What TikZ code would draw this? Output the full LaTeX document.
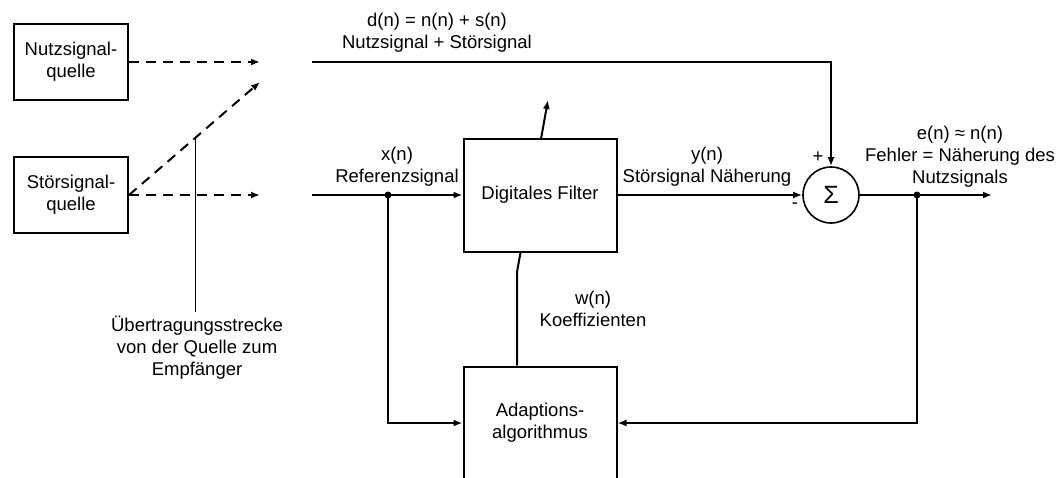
\documentclass[tikz,border=0pt]{standalone}
\usepackage{fontspec}
\setmainfont{Liberation Sans}
\usetikzlibrary{arrows.meta}

\begin{document}
\begin{tikzpicture}[x=1pt, y=-1pt,
        font=\fontsize{18.5}{22}\selectfont,
        box/.style = {draw, line width=2pt, fill=white, align=center, inner sep=0pt},
        src box/.style = {box, minimum width=114, minimum height=76},
        block/.style = {box, minimum width=153, minimum height=113},
        sum/.style = {draw, circle, line width=1.6pt, fill=white, minimum size=56, inner sep=0pt, font=\fontsize{25}{25}\selectfont},
        label text/.style = {align=center, inner sep=0pt},
        thin line/.style = {line width=1pt},
        arrow/.style = {-{Latex[length=9pt, width=7pt]}, line width=2pt},
        dashed arrow/.style = {arrow, dash pattern=on 10pt off 7pt}
    ]
    \clip (0,0) rectangle (1061,477);

    % Nodes
    \node (nutz) [src box] at (71,62) {Nutzsignal-\\quelle};
    \node (stoer) [src box] at (71,195) {Störsignal-\\quelle};
    \node (adapt) [block] at (540,423) {Adaptions-\\algorithmus};
    \coordinate (wbend) at (517,272);
    \coordinate (wtip) at (548,100);
    \draw[arrow] (adapt.north -| wbend) -- (wbend) -- (wtip);
    \node (filter) [block] at (540,195) {Digitales Filter};
    \node (sum) [sum] at (831,195) {Σ};

    \coordinate (nutzend) at (260,62);
    \coordinate (stoerend) at (260,195);
    \coordinate (diagend) at (260,82);
    \coordinate (dstart) at (312,62);
    \coordinate (xstart) at (312,195);
    \coordinate (xjunc) at (388,195);
    \coordinate (ejunc) at (917,195);
    \coordinate (eout) at (992,195);
    \coordinate (transtop) at (195,138);

    % Labels
    \node (trans) [label text, inner sep=4pt] at (197,348) {Übertragungsstrecke\\von der Quelle zum\\Empfänger};
    \node (dlabel) [label text] at (437,33) {d(n) = n(n) + s(n)\\Nutzsignal + Störsignal};
    \node (xlabel) [label text] at (397,167) {x(n)\\Referenzsignal};
    \node (ylabel) [label text] at (707,167) {y(n)\\Störsignal Näherung};
    \node (elabel) [label text] at (960,157) {e(n) ≈ n(n)\\Fehler = Näherung des\\Nutzsignals};
    \node (wlabel) [label text] at (593,309) {w(n)\\Koeffizienten};
    \node (plus) [label text] at (818,157) {+};
    \node (minus) [label text] at (795,206) {-};

    % Arrows
    \draw[dashed arrow] (nutz.east) -- (nutzend);
    \draw[dashed arrow] (stoer.east) -- (stoerend);
    \draw[dashed arrow] (stoer.east) -- (diagend);
    \draw[thin line] (transtop) -- (transtop |- trans.north);
    \draw[arrow] (dstart) -| (sum.north);
    \draw[arrow] (xstart) -- (filter.west);
    \draw[arrow] (xjunc) |- (adapt.west);
    \draw[arrow] (filter.east) -- (sum.west);
    \draw[arrow] (sum.east) -- (eout);
    \draw[arrow] (ejunc) |- (adapt.east);
    \fill (xjunc) circle (3.5);
    \fill (ejunc) circle (3.5);

\end{tikzpicture}
\end{document}
